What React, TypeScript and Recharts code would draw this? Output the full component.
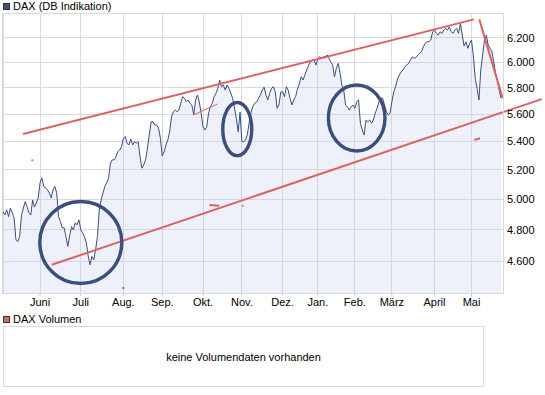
import React from 'react';
import {
  ComposedChart,
  Area,
  XAxis,
  YAxis,
  CartesianGrid,
  ReferenceLine,
  ReferenceDot,
} from 'recharts';

// x axis: trading days since start, month starts as ticks
const monthTicks = [20, 42, 65, 86, 108, 129, 151, 170, 190, 210, 233, 253];
const monthLabels = ['Juni', 'Juli', 'Aug.', 'Sep.', 'Okt.', 'Nov.', 'Dez.', 'Jan.', 'Feb.', 'März', 'April', 'Mai'];
const dayDomain = [0, 270];

// y axis (log scale)
const priceTicks = [4600, 4800, 5000, 5200, 5400, 5600, 5800, 6000, 6200];
const priceDomain = [4411, 6408];

// DAX daily closes
const daxClose = [
  4917, 4895, 4928, 4884, 4940, 4908, 4876, 4735, 4724, 4756,
  4895, 4940, 4983, 4949, 4908, 4895, 4994, 4947, 4974, 5007,
  5109, 5143, 5084, 5075, 5061, 5041, 5008, 5061, 5084, 5041,
  4884, 4852, 4812, 4812, 4756, 4694, 4761, 4820, 4799, 4844,
  4831, 4863, 4799, 4780, 4756, 4717, 4635, 4580, 4631, 4611,
  4672, 4756, 4928, 4994, 5041, 5084, 5109, 5141, 5245, 5268,
  5268, 5291, 5326, 5338, 5362, 5422, 5434, 5386, 5374, 5417,
  5374, 5398, 5386, 5398, 5291, 5210, 5233, 5268, 5352, 5446,
  5543, 5543, 5519, 5519, 5495, 5422, 5296, 5326, 5374, 5410,
  5470, 5580, 5617, 5630, 5617, 5630, 5683, 5731, 5719, 5693,
  5706, 5681, 5668, 5593, 5706, 5744, 5691, 5606, 5506, 5482,
  5506, 5606, 5655, 5681, 5731, 5757, 5795, 5860, 5808, 5821,
  5782, 5821, 5795, 5759, 5719, 5645, 5569, 5470, 5615, 5398,
  5398, 5410, 5453, 5541, 5615, 5660, 5683, 5691, 5719, 5744,
  5782, 5805, 5744, 5706, 5757, 5795, 5808, 5769, 5643, 5668,
  5767, 5769, 5731, 5808, 5782, 5719, 5668, 5706, 5731, 5790,
  5829, 5886, 5860, 5899, 5939, 5978, 6004, 6018, 6018, 5978,
  6032, 6045, 6032, 6045, 6045, 6059, 6032, 6004, 5978, 5886,
  5952, 5992, 5913, 5821, 5782, 5668, 5653, 5630, 5655, 5668,
  5643, 5693, 5706, 5532, 5482, 5446, 5556, 5543, 5556, 5532,
  5556, 5606, 5643, 5693, 5721, 5719, 5668, 5617, 5593, 5606,
  5693, 5769, 5808, 5868, 5899, 5925, 5939, 5965, 5978, 5992,
  6018, 6045, 6032, 6039, 6059, 6073, 6086, 6126, 6154, 6167,
  6167, 6181, 6250, 6264, 6236, 6222, 6250, 6236, 6264, 6278,
  6264, 6289, 6250, 6236, 6264, 6278, 6236, 6319, 6222, 6132,
  6167, 6113, 6154, 6181, 6051, 5873, 5795, 5706, 5939, 6059,
  6181, 6222, 6140, 6113, 6086, 6004, 5912, 5860, 5774, 5719,
];

// hand drawn annotations (day, price)
const upperTrend = [{ day: 10.8, dax: 5453 }, { day: 254.3, dax: 6354 }];
const lowerTrend = [{ day: 26.3, dax: 4580 }, { day: 290.9, dax: 5713 }];
const steepTrend = [{ day: 257.2, dax: 6354 }, { day: 269.8, dax: 5719 }];
const thinStroke = [{ day: 102.8, dax: 5593 }, { day: 115.9, dax: 5676 }];
const shortStrokes = [
  [{ day: 111.4, dax: 4961 }, { day: 116.8, dax: 4955 }],
  [{ day: 254.5, dax: 5410 }, { day: 257.6, dax: 5422 }],
];
const redDots = [{ day: 15.8, dax: 5265 }, { day: 129.4, dax: 4955 }];
const blueDots = [{ day: 65.0, dax: 4440 }];
const circleCenters = [
  { day: 42.0, dax: 4718 },
  { day: 126.5, dax: 5489 },
  { day: 191.0, dax: 5571 },
];
const circleRadii = [[41, 41], [14.5, 26.6], [28.3, 33]];

const chartData = daxClose.map((dax, day) => ({ day, dax }));

const FONT = '"Liberation Sans", Arial, sans-serif';
const NAVY = '#3b4e7e';
const RED = '#dc6262';
const GRID = '#dadada';

const fmtPrice = (v: number) => `${Math.floor(v / 1000)}.${String(v % 1000).padStart(3, '0')}`;
const fmtMonth = (v: number) => monthLabels[monthTicks.indexOf(v)] ?? '';

const ellipseShape = (rx: number, ry: number) => (props: any) => (
  <ellipse
    cx={props.cx}
    cy={props.cy}
    rx={rx}
    ry={ry}
    fill="none"
    stroke={NAVY}
    strokeWidth={3.4}
  />
);

const LegendItem = ({ top, color, label }: { top: number; color: string; label: string }) => (
  <>
    <div
      style={{
        position: 'absolute', left: 3, top: top + 3, width: 7, height: 7,
        boxSizing: 'border-box', background: color, border: '1px solid #333',
      }}
    />
    <div style={{ position: 'absolute', left: 13, top, lineHeight: '12px', whiteSpace: 'nowrap' }}>
      {label}
    </div>
  </>
);

export default function App() {
  return (
    <div
      style={{
        position: 'absolute', left: 0, top: 0, width: 545, height: 395,
        background: '#fff', fontFamily: FONT, fontSize: 11, color: '#000',
      }}
    >
      <style>{'.recharts-cartesian-grid line{shape-rendering:crispEdges}'}</style>
      <LegendItem top={0} color="#3d5282" label="DAX (DB Indikation)" />

      <div style={{ position: 'absolute', left: 0, top: 0 }}>
        <ComposedChart
          width={545}
          height={320}
          data={chartData}
          margin={{ top: 13, right: 0, bottom: 7, left: 3 }}
        >
          <CartesianGrid stroke={GRID} />
          <XAxis
            dataKey="day"
            type="number"
            domain={dayDomain}
            ticks={monthTicks}
            tickFormatter={fmtMonth}
            height={20}
            axisLine={false}
            tickSize={3}
            tickMargin={2}
            tickLine={{ stroke: '#c8c8c8' }}
            tick={{ fontSize: 11, fill: '#000', fontFamily: FONT }}
            allowDataOverflow
          />
          <YAxis
            type="number"
            orientation="right"
            scale="log"
            domain={priceDomain}
            ticks={priceTicks}
            tickFormatter={fmtPrice}
            width={42}
            axisLine={false}
            tickLine={false}
            tickSize={0}
            tickMargin={4}
            tick={{ fontSize: 11, fill: '#000', fontFamily: FONT, textAnchor: 'start' }}
            allowDataOverflow
          />
          <Area
            type="linear"
            dataKey="dax"
            stroke={NAVY}
            strokeWidth={1}
            fill="#c8d2ee"
            fillOpacity={0.3}
            baseValue={priceDomain[0]}
            dot={false}
            activeDot={false}
            isAnimationActive={false}
          />
          <ReferenceLine
            segment={[{ x: upperTrend[0].day, y: upperTrend[0].dax }, { x: upperTrend[1].day, y: upperTrend[1].dax }]}
            stroke={RED}
            strokeWidth={2}
            ifOverflow="visible"
          />
          <ReferenceLine
            segment={[{ x: lowerTrend[0].day, y: lowerTrend[0].dax }, { x: lowerTrend[1].day, y: lowerTrend[1].dax }]}
            stroke={RED}
            strokeWidth={2}
            ifOverflow="visible"
          />
          <ReferenceLine
            segment={[{ x: steepTrend[0].day, y: steepTrend[0].dax }, { x: steepTrend[1].day, y: steepTrend[1].dax }]}
            stroke={RED}
            strokeWidth={2}
            ifOverflow="visible"
          />
          <ReferenceLine
            segment={[{ x: thinStroke[0].day, y: thinStroke[0].dax }, { x: thinStroke[1].day, y: thinStroke[1].dax }]}
            stroke={RED}
            strokeWidth={1}
            ifOverflow="visible"
          />
          {shortStrokes.map((s, i) => (
            <ReferenceLine
              key={`s-${i}`}
              segment={[{ x: s[0].day, y: s[0].dax }, { x: s[1].day, y: s[1].dax }]}
              stroke={RED}
              strokeWidth={2}
              ifOverflow="visible"
            />
          ))}
          {redDots.map((d, i) => (
            <ReferenceDot key={`rd-${i}`} x={d.day} y={d.dax} r={1} fill={RED} stroke="none" ifOverflow="visible" />
          ))}
          {blueDots.map((d, i) => (
            <ReferenceDot key={`bd-${i}`} x={d.day} y={d.dax} r={1} fill={NAVY} stroke="none" ifOverflow="visible" />
          ))}
          {circleCenters.map((c, i) => (
            <ReferenceDot
              key={`c-${i}`}
              x={c.day}
              y={c.dax}
              ifOverflow="visible"
              shape={ellipseShape(circleRadii[i][0], circleRadii[i][1])}
            />
          ))}
        </ComposedChart>
      </div>

      {/* plot frame */}
      <div
        style={{
          position: 'absolute', left: 2, top: 13, width: 502, height: 281,
          boxSizing: 'border-box', border: `1px solid ${GRID}`, pointerEvents: 'none',
        }}
      />

      <LegendItem top={313} color="#d96a6a" label="DAX Volumen" />
      <div
        style={{
          position: 'absolute', left: 3, top: 326, width: 481, height: 61,
          boxSizing: 'border-box', border: `1px solid ${GRID}`,
          display: 'flex', alignItems: 'center', justifyContent: 'center',
        }}
      >
        keine Volumendaten vorhanden
      </div>
    </div>
  );
}
